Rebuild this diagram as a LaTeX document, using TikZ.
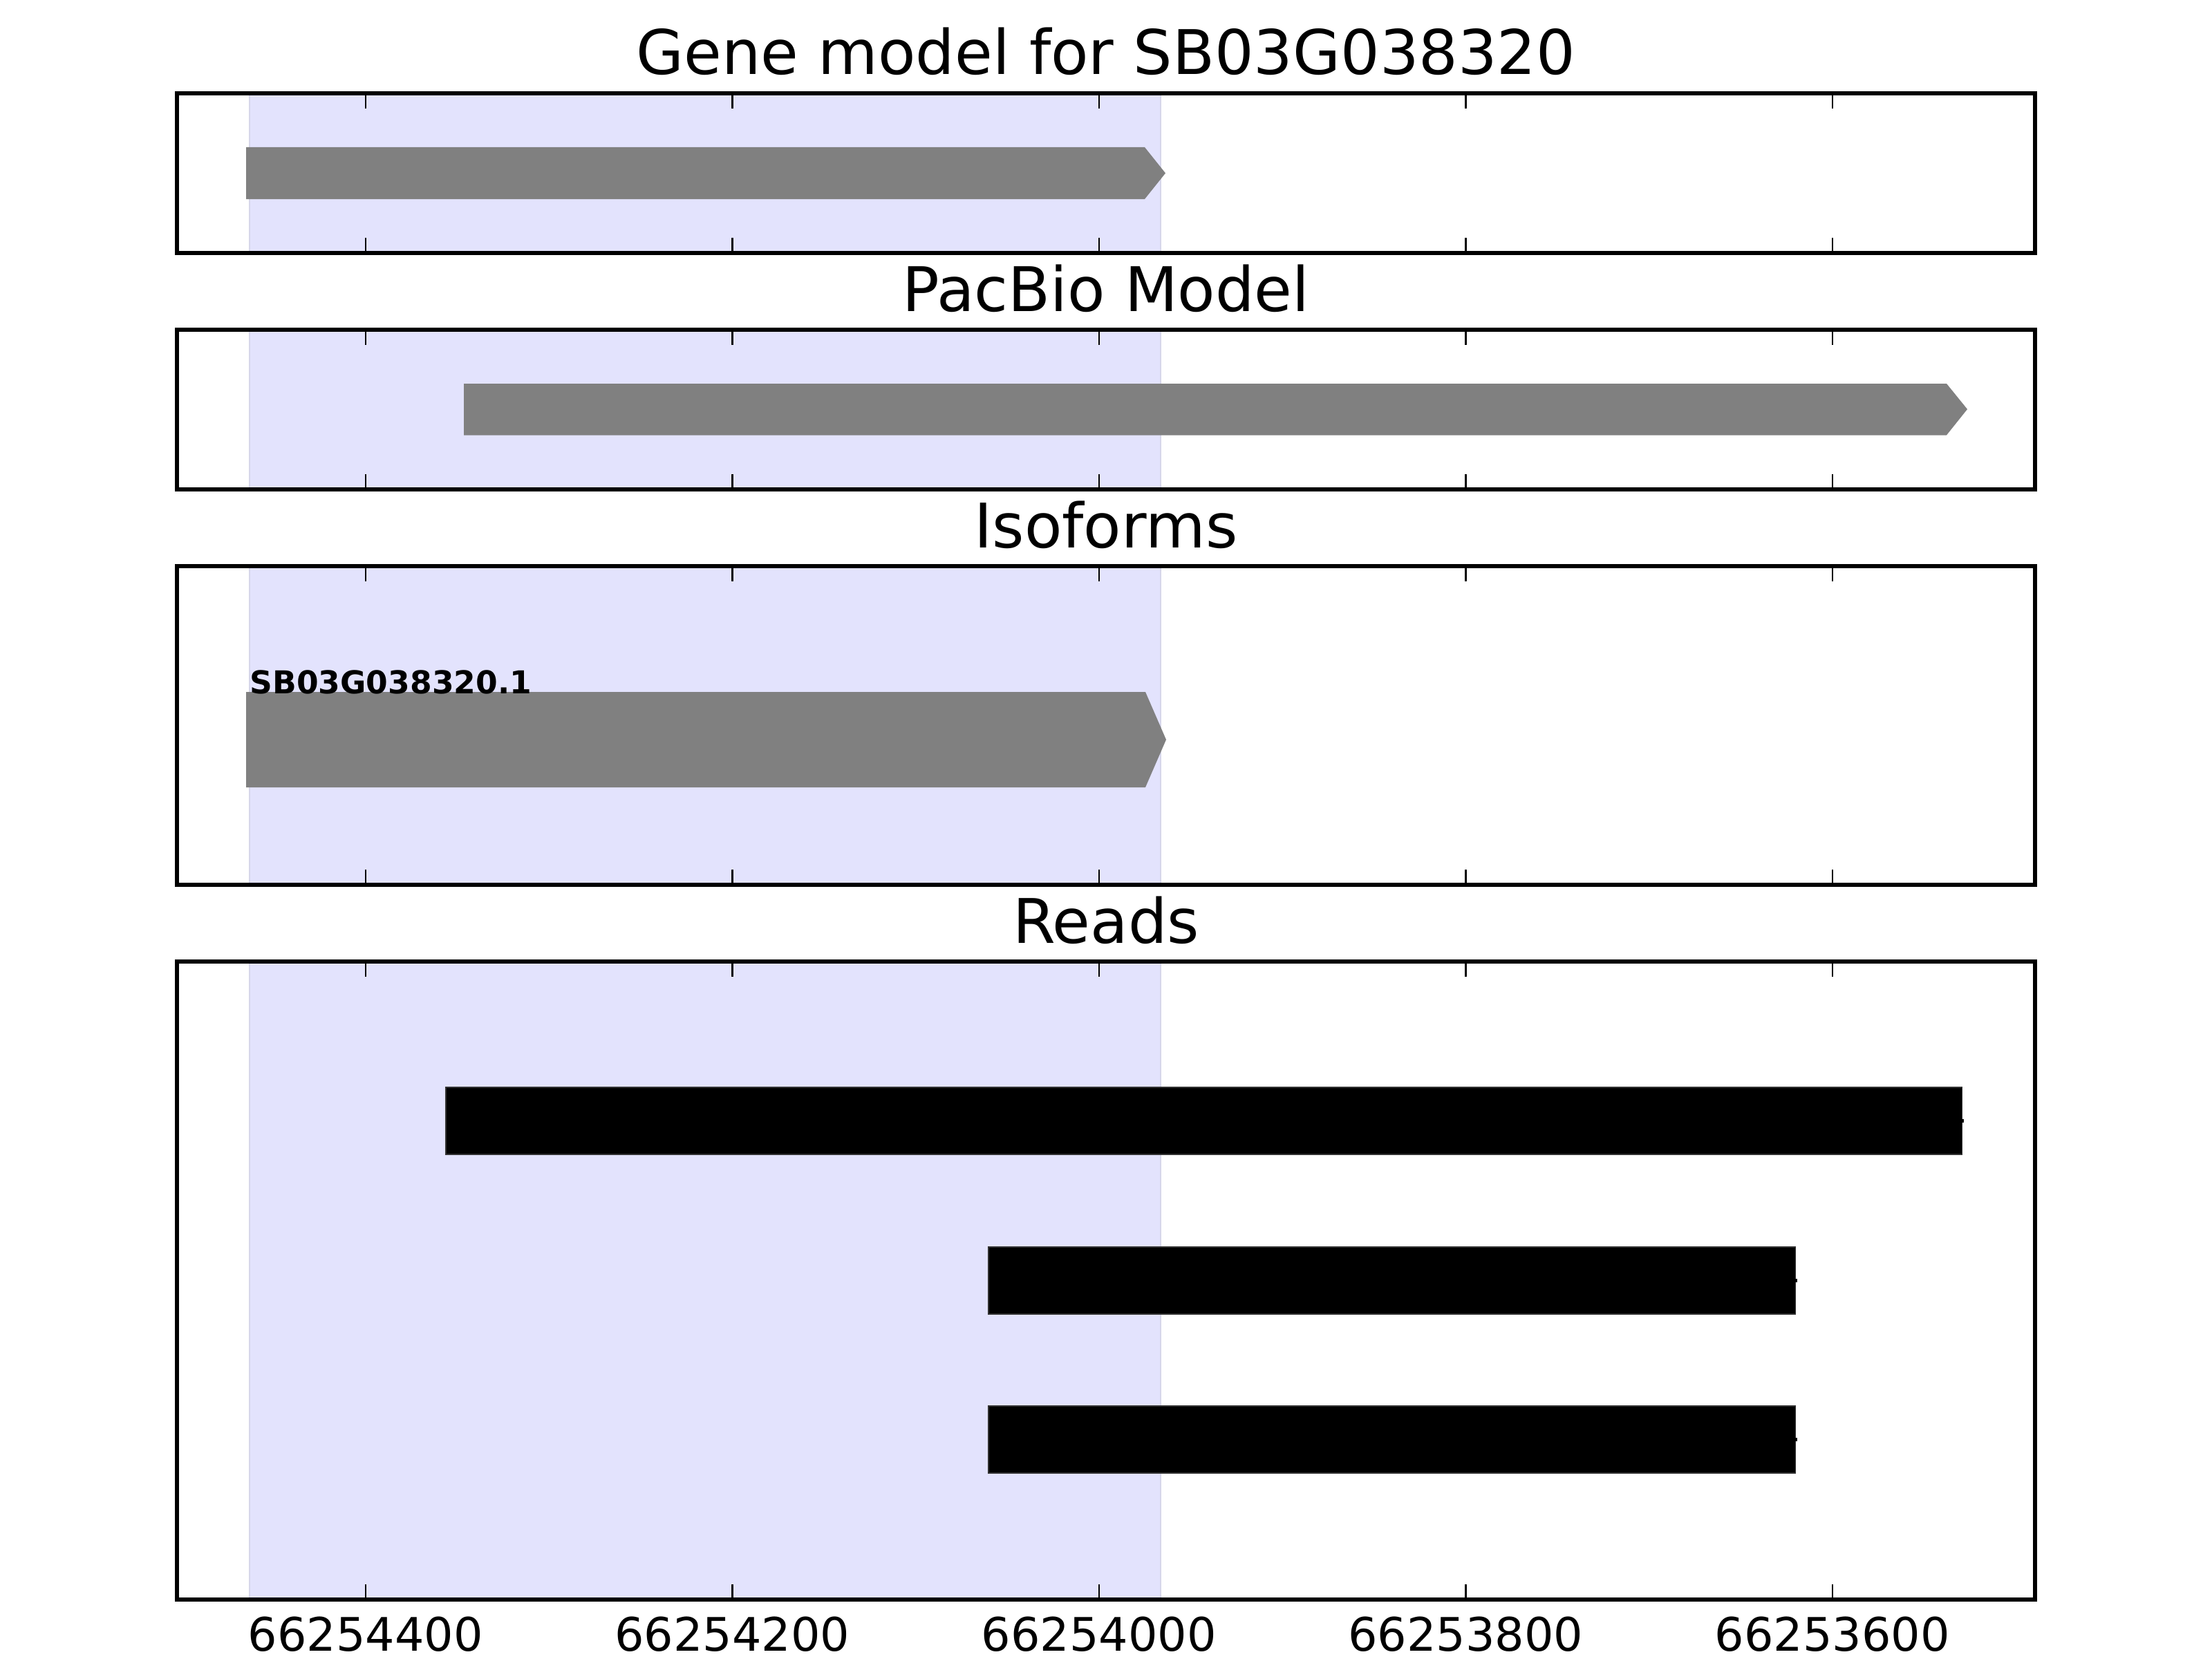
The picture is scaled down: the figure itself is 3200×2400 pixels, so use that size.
\documentclass[tikz,border=0pt]{standalone}
\usepackage{fontspec}
\setmainfont{DejaVu Sans}
\definecolor{spanfill}{RGB}{227,227,253}
\definecolor{spanedge}{RGB}{214,214,234}
\definecolor{genegray}{RGB}{128,128,128}
\definecolor{readedge}{RGB}{50,50,50}
\begin{document}
\begin{tikzpicture}[x=0.01cm,y=-0.01cm,
  spine/.style={line width=1.56pt, draw=black},
  tickmark/.style={line width=0.8pt, draw=black},
  paneltitle/.style={anchor=base, inner sep=0pt, font=\fontsize{25.3}{30}\selectfont},
  ticklabel/.style={anchor=base, inner sep=0pt, font=\fontsize{19}{23}\selectfont},
  isolabel/.style={anchor=base west, inner sep=0pt, font=\fontsize{12.95}{15}\selectfont\bfseries},
  genebar/.style={fill=genegray},
  readbar/.style={fill=black, draw=readedge, line width=0.3pt}]
\useasboundingbox (0,0) rectangle (3200,2400);
\fill[white] (0,0) rectangle (3200,2400);

% shaded spans
\foreach \t/\b in {135/366,477/708,819/1280,1391/2314}{
  \fill[spanfill] (360,\t) rectangle (1680,\b);
  \draw[spanedge, line width=0.6pt] (361,\t) -- (361,\b) (1679,\t) -- (1679,\b);
}

% gene model
\fill[genebar] (356,213) -- (1656,213) -- (1686,250.5) -- (1656,288) -- (356,288) -- cycle;
% pacbio model
\fill[genebar] (671,555) -- (2816,555) -- (2846,592) -- (2816,629.5) -- (671,629.5) -- cycle;
% isoform
\fill[genebar] (356,1001) -- (1657,1001) -- (1687,1070) -- (1657,1139) -- (356,1139) -- cycle;
\node[isolabel] (iso) at (361,1003) {SB03G038320.1};

% reads
\filldraw[readbar] (645,1573) rectangle (2838,1670);
\filldraw[readbar] (1430,1804) rectangle (2597,1901);
\filldraw[readbar] (1430,2034) rectangle (2597,2131);
\draw[line width=1.2pt] (2837,1621.5) -- (2841,1621.5);
\draw[line width=1.2pt] (2596,1852.5) -- (2600,1852.5);
\draw[line width=1.2pt] (2596,2082.5) -- (2600,2082.5);

% ticks and spines
\foreach \t/\b in {135/366,477/708,819/1280,1391/2314}{
  \foreach \x in {529,1059.5,1590,2120.5,2651}{
    \draw[tickmark] (\x,\t) -- (\x,\t+22);
    \draw[tickmark] (\x,\b) -- (\x,\b-22);
  }
  \draw[spine] (255.8,\t) rectangle (2944.2,\b);
}

% titles
\node[paneltitle] (t1) at (1600,108) {Gene model for SB03G038320};
\node[paneltitle] (t2) at (1600,450) {PacBio Model};
\node[paneltitle] (t3) at (1600,792) {Isoforms};
\node[paneltitle] (t4) at (1600,1364) {Reads};

% tick labels
\node[ticklabel] (l1) at (529,2388) {66254400};
\node[ticklabel] (l2) at (1059.5,2388) {66254200};
\node[ticklabel] (l3) at (1590,2388) {66254000};
\node[ticklabel] (l4) at (2120.5,2388) {66253800};
\node[ticklabel] (l5) at (2651,2388) {66253600};
\end{tikzpicture}
\end{document}
